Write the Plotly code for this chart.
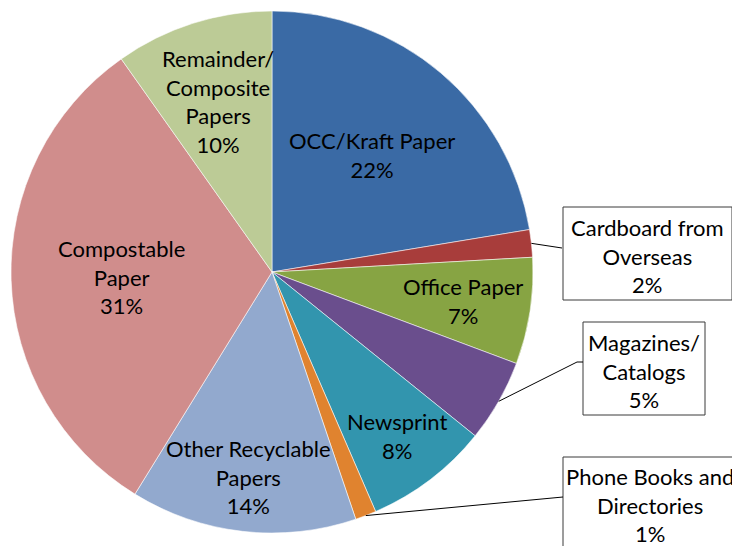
import math
import plotly.graph_objects as go

# ── data ──────────────────────────────────────────────────────────────────
labels = [
    "OCC/Kraft Paper", "Cardboard from<br>Overseas", "Office Paper",
    "Magazines/<br>Catalogs", "Newsprint", "Phone Books and<br>Directories",
    "Other Recyclable<br>Papers", "Compostable<br>Paper",
    "Remainder/<br>Composite<br>Papers",
]
shares = [22.4, 1.7, 6.6, 5.1, 7.7, 1.3, 14.0, 31.4, 9.8]
colors = [
    "#3A6AA5", "#A83D3B", "#87A443", "#6A4E8D", "#3295AE",
    "#E0832F", "#92A9CE", "#D08D8C", "#BCCB96",
]

# ── layout (pixels measured on the 740x546 page) ──────────────────────────
OFF = 8                      # the html body margin
W, H = 740 - OFF, 546 - OFF  # figure size
CX, CY, R = 272, 272, 261
FONT = "Lato"
FS = 22

# inside labels: fraction of radius where the text block sits
inside_r = {0: 0.59, 2: 0.74, 4: 0.79, 6: 0.79, 7: 0.575, 8: 0.685}
# callouts: box (x0, y0, x1, y1), text centre, and where the leader meets the box
callouts = {
    1: dict(box=(563, 207, 732, 300), text=(647, 256), path=[(562, 248)]),
    3: dict(box=(583, 322, 705, 415), text=(644, 371), path=[(577, 362), (583, 362)]),
    5: dict(box=(563, 457, 760, 560), text=(650, 505), path=[(563, 497)]),
}


def px(x):
    return (x - OFF) / W


def py(y):
    return 1 - (y - OFF) / H


def edge_point(angle_deg, frac):
    a = math.radians(angle_deg)
    return CX + frac * R * math.sin(a), CY - frac * R * math.cos(a)


total = sum(shares)
mid_angles = []
acc = 0.0
for v in shares:
    mid_angles.append((acc + v / 2) / total * 360)
    acc += v

fig = go.Figure(go.Pie(
    labels=[l.replace("<br>", " ") for l in labels], values=shares,
    sort=False, direction="clockwise", rotation=0,
    marker=dict(colors=colors, line=dict(color="rgba(255,255,255,0.7)", width=0.8)),
    textinfo="none", hoverinfo="label+percent", showlegend=False,
    domain=dict(x=[px(CX - R), px(CX + R)], y=[py(CY + R), py(CY - R)]),
))

annotations, shapes = [], []
for i, (lab, v) in enumerate(zip(labels, shares)):
    text = f"{lab}<br>{round(v / total * 100)}%"
    if i in inside_r:
        x, y = edge_point(mid_angles[i], inside_r[i])
    else:
        c = callouts[i]
        x0, y0, x1, y1 = c["box"]
        shapes.append(dict(
            type="rect", xref="paper", yref="paper",
            x0=px(x0), y0=py(y0), x1=px(x1), y1=py(y1),
            line=dict(color="#3a3a3a", width=1), fillcolor="white",
        ))
        pts = [edge_point(mid_angles[i], 1.0)] + c["path"]
        for (ax, ay), (bx, by) in zip(pts[:-1], pts[1:]):
            shapes.append(dict(
                type="line", xref="paper", yref="paper",
                x0=px(ax), y0=py(ay), x1=px(bx), y1=py(by),
                line=dict(color="black", width=1),
            ))
        x, y = c["text"]
    annotations.append(dict(
        x=px(x), y=py(y), xref="paper", yref="paper", text=text,
        showarrow=False, xanchor="center", yanchor="middle",
        font=dict(family=FONT, size=FS, color="black"),
    ))

fig.update_layout(
    width=W, height=H, margin=dict(l=0, r=0, t=0, b=0),
    paper_bgcolor="white", plot_bgcolor="white",
    annotations=annotations, shapes=shapes,
)
fig.write_html("out.html")
